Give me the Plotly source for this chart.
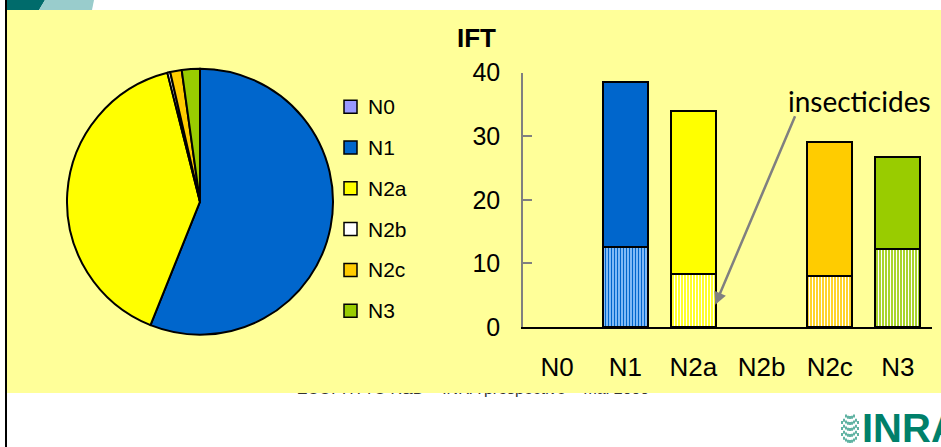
import plotly.graph_objects as go

# ---- data -------------------------------------------------------------
categories = ["N0", "N1", "N2a", "N2b", "N2c", "N3"]
surface_share = [0.0, 56.1, 40.0, 0.35, 1.4, 2.2]          # pie, %
ift_insecticides = [None, 12.6, 8.3, None, 8.0, 12.3]       # lower, striped part
ift_other = [None, 26.0, 25.7, None, 21.1, 14.4]            # upper, solid part
y_ticks = [0, 10, 20, 30, 40]

# ---- styling ----------------------------------------------------------
colors = ["#9999FF", "#0066CC", "#FFFF00", "#FFFFFF", "#FFCC00", "#99CC00"]
stripe_bg = ["#9999FF", "#99CCFF", "#FFFF00", "#FFFFFF", "#FFCC00", "#99CC00"]
stripe_fg = ["#FFFFFF", "#0066CC", "#FFFFFF", "#FFFFFF", "#FFFFFF", "#FFFFFF"]

W, H = 941, 447
FONT = "Liberation Sans, Arial, sans-serif"


def px(x):
    return x / W


def py(y):
    return 1 - y / H


fig = go.Figure()

# pie: share of each level
fig.add_trace(go.Pie(
    labels=categories, values=surface_share, sort=False,
    direction="clockwise", rotation=0,
    marker=dict(colors=colors, line=dict(color="black", width=2)),
    textinfo="none", hoverinfo="skip", showlegend=False,
    domain=dict(x=[px(67), px(333)], y=[py(334.7), py(68.7)]),
))

# stacked bars: IFT, striped insecticide part at the bottom
# (one trace per level so each gets its own stripe colours)
for i, cat in enumerate(categories):
    if ift_insecticides[i] is None:
        continue
    fig.add_trace(go.Bar(
        x=[cat], y=[ift_insecticides[i]], name="insecticides " + cat,
        marker=dict(
            color=stripe_bg[i],
            line=dict(color="black", width=2),
            pattern=dict(shape="|", fillmode="replace",
                         bgcolor=stripe_bg[i], fgcolor=stripe_fg[i],
                         size=3, solidity=0.45),
        ),
        hoverinfo="skip", showlegend=False,
    ))
fig.add_trace(go.Bar(
    x=categories, y=ift_other, name="autres",
    marker=dict(color=colors, line=dict(color="black", width=2)),
    hoverinfo="skip", showlegend=False,
))

# footer line partly hidden under the panel
fig.add_trace(go.Scatter(
    x=[473], y=[389.5], mode="text",
    text=["ECOPHYTO R&D – INRA prospective – mai 2009"],
    textfont=dict(family=FONT, size=16, color="#333333"),
    xaxis="x2", yaxis="y2", hoverinfo="skip", showlegend=False,
))

shapes = [
    # yellow panel
    dict(type="rect", xref="paper", yref="paper", layer="below",
         x0=px(7), x1=1, y0=py(393), y1=py(10),
         fillcolor="#FFFF99", line=dict(width=0)),
    # strip of the panel drawn over the footer text
    dict(type="rect", xref="paper", yref="paper", layer="above",
         x0=px(7), x1=1, y0=py(393), y1=py(381),
         fillcolor="#FFFF99", line=dict(width=0)),
    # left border line
    dict(type="line", xref="paper", yref="paper",
         x0=px(6), x1=px(6), y0=0, y1=1, line=dict(color="black", width=2)),
    # banner corner
    dict(type="path", xref="paper", yref="paper", fillcolor="#006B6B",
         line=dict(width=0),
         path=f"M {px(7)},{py(0)} L {px(45)},{py(0)} L {px(39)},{py(10)} L {px(7)},{py(10)} Z"),
    dict(type="path", xref="paper", yref="paper", fillcolor="#99CCCC",
         line=dict(width=0),
         path=f"M {px(45)},{py(0)} L {px(94)},{py(0)} L {px(92)},{py(10)} L {px(39)},{py(10)} Z"),
]

annotations = []

# pie legend
leg_y = [106.7, 147.5, 188.3, 229.1, 269.9, 310.7]
for lab, col, yc in zip(categories, colors, leg_y):
    shapes.append(dict(type="rect", xref="paper", yref="paper",
                       x0=px(344), x1=px(357), y0=py(yc + 6.5), y1=py(yc - 6.5),
                       fillcolor=col, line=dict(color="black", width=1.5)))
    annotations.append(dict(xref="paper", yref="paper", x=px(366), y=py(yc),
                            xanchor="left", yanchor="middle", showarrow=False,
                            text=lab, font=dict(family=FONT, size=21, color="black")))

# bar chart title and callout
annotations += [
    dict(xref="paper", yref="paper", x=px(476), y=py(38), showarrow=False,
         xanchor="center", yanchor="middle", text="<b>IFT</b>",
         font=dict(family=FONT, size=26, color="black")),
    dict(xref="paper", yref="paper", x=px(786), y=py(101), showarrow=False,
         xanchor="left", yanchor="middle", text="insecticides",
         font=dict(family="Lato, sans-serif", size=28, color="black")),
    dict(xref="x", yref="y", x=2.32, y=3.5, axref="x", ayref="y",
         ax=3.5, ay=33.4, text="", showarrow=True, arrowhead=2,
         arrowsize=1, arrowwidth=2.5, arrowcolor="#808080"),
    # logo text
    dict(xref="paper", yref="paper", x=px(860), y=py(428), showarrow=False,
         xanchor="left", yanchor="middle", text="<b>INRA</b>",
         font=dict(family="Liberation Sans Narrow, Arial Narrow, sans-serif",
                   size=40, color="#00806A")),
]

# logo globe made of vertical strokes
cx, cy, rx, ry = 850, 428, 9, 15
for k in range(-4, 5):
    dx = 2 * k
    half = ry * (1 - (dx / (rx + 0.5)) ** 2) ** 0.5
    shapes.append(dict(type="line", xref="paper", yref="paper",
                       x0=px(cx + dx), x1=px(cx + dx),
                       y0=py(cy + half), y1=py(cy - half),
                       line=dict(color="#2E9A85", width=1.5, dash="dot")))

fig.update_layout(
    width=W, height=H,
    margin=dict(l=0, r=0, t=0, b=0, pad=0, autoexpand=False),
    paper_bgcolor="white", plot_bgcolor="rgba(0,0,0,0)",
    barmode="stack", bargap=0.34,
    shapes=shapes, annotations=annotations,
    xaxis=dict(
        domain=[px(523), px(932)], type="category",
        categoryorder="array", categoryarray=categories,
        range=[-0.5, 5.5], showline=True, linecolor="black", linewidth=2,
        ticks="", showgrid=False, zeroline=False, fixedrange=True,
        automargin=False,
        tickfont=dict(family=FONT, size=26, color="black"),
        ticklabelstandoff=16,
    ),
    yaxis=dict(
        domain=[py(327), py(72.7)], range=[0, 40], tickvals=y_ticks,
        showline=True, linecolor="#808080", linewidth=1.5,
        ticks="inside", ticklen=9, tickcolor="#808080", tickwidth=1.5,
        showgrid=False, zeroline=False, fixedrange=True,
        automargin=False,
        tickfont=dict(family=FONT, size=25, color="black"),
        ticklabelstandoff=16,
    ),
    xaxis2=dict(domain=[0, 1], range=[0, W], visible=False, anchor="y2",
                fixedrange=True, automargin=False),
    yaxis2=dict(domain=[0, 1], range=[H, 0], visible=False, anchor="x2",
                fixedrange=True, automargin=False),
)

fig.write_html("out.html")
